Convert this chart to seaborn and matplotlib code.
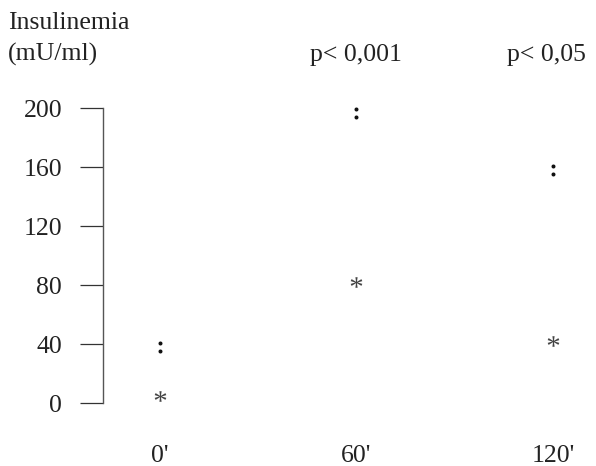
"""Insulinemia at 0', 60', 120' with significance labels."""

import matplotlib
matplotlib.use("Agg")
import matplotlib.pyplot as plt
import matplotlib.transforms as mtransforms
import pandas as pd
import seaborn as sns

# data
times = ["0'", "60'", "120'"]
colon_vals = [38, 197, 158]      # ":" markers
star_vals = [5, 82, 42]          # "*" markers
p_labels = ["", "p< 0,001", "p< 0,05"]
y_ticks = [0, 40, 80, 120, 160, 200]

sns.set_theme(style="white")
plt.rcParams["font.family"] = ["Liberation Serif", "DejaVu Serif"]
plt.rcParams["mathtext.fontset"] = "custom"
plt.rcParams["mathtext.rm"] = "Liberation Serif"
plt.rcParams["mathtext.bf"] = "Liberation Serif:bold"
TXT = "#222222"
FS = 18.5

df = pd.DataFrame({
    "pos": list(range(len(times))) * 2,
    "val": colon_vals + star_vals,
    "kind": ["colon"] * len(times) + ["star"] * len(times),
})

fig = plt.figure(figsize=(5.96, 4.66), dpi=100)
ax = fig.add_axes([0.173, 0.135, 0.827, 0.633])

sns.scatterplot(data=df[df.kind == "colon"], x="pos", y="val", marker=r"$\mathbf{:}$",
                s=75, color="#111111", linewidth=0, ax=ax, legend=False, clip_on=False)
sns.scatterplot(data=df[df.kind == "star"], x="pos", y="val", marker=r"$\mathrm{*}$",
                s=70, color="#444444", linewidth=0, ax=ax, legend=False, clip_on=False)

ax.set_xlim(-0.29, 2.22)
ax.set_ylim(0, 200)
ax.set_xticks(range(len(times)))
ax.set_xticklabels(times)
ax.set_yticks(y_ticks)
ax.set_xlabel("")
ax.set_ylabel("")
for side in ["top", "right", "bottom"]:
    ax.spines[side].set_visible(False)
ax.spines["left"].set_color("#555555")
ax.spines["left"].set_linewidth(1.0)
ax.tick_params(axis="y", length=16.5, width=0.9, color="#333333", pad=13,
               labelsize=FS, labelcolor=TXT, direction="out", left=True)
ax.tick_params(axis="x", length=0, pad=30, labelsize=FS, labelcolor=TXT)

fig.text(0.013, 0.951, "Insulinemia", fontsize=FS, color=TXT, va="center", ha="left")
fig.text(0.013, 0.884, "(mU/ml)", fontsize=FS, color=TXT, va="center", ha="left")

trans = mtransforms.blended_transform_factory(ax.transData, fig.transFigure)
shift = [0, 0, -6]  # px nudge of the p labels
for i, lab in enumerate(p_labels):
    if lab:
        t = trans + mtransforms.Affine2D().translate(shift[i], 0)
        ax.text(i, 0.882, lab, transform=t, fontsize=FS, color=TXT,
                ha="center", va="center")

fig.savefig("out.png", dpi=100)
